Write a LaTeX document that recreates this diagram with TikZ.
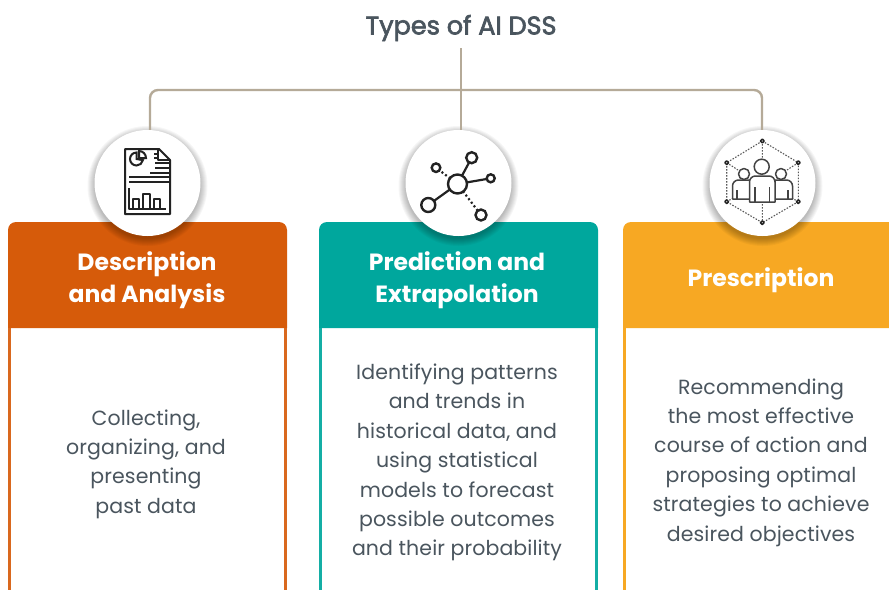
\documentclass[tikz,border=0pt]{standalone}
\usepackage{fontspec}
\setmainfont{Poppins}
\usetikzlibrary{calc}
\definecolor{orangeC}{HTML}{D65B0A}
\definecolor{tealC}{HTML}{00A79D}
\definecolor{amberC}{HTML}{F7A823}
\definecolor{linkC}{HTML}{B5AA98}
\definecolor{txtC}{HTML}{4A555E}
\definecolor{iconC}{HTML}{222222}
\newfontface\titlefont[FakeBold=2.5]{Poppins}
\tikzset{
 x=1pt,y=-1pt,
 cardhead/.style={text=white,font=\fontsize{23.5}{31.5}\selectfont\bfseries,align=center},
 cardbody/.style={text=txtC,font=\fontsize{20.5}{29.4}\selectfont\addfontfeature{LetterSpace=0.5},align=center},
 badge/.style={circle,fill=white,minimum size=106pt,inner sep=0pt},
 linkline/.style={draw=linkC,line width=2.4pt,rounded corners=8pt},
 ico/.style={draw=iconC,line width=2pt},
 icofine/.style={draw=iconC,line width=1.1pt,dash pattern=on 1.5pt off 1.5pt},
 icofill/.style={draw=iconC,line width=2.4pt,fill=white},
 ppl/.style={draw=iconC!85,line width=1.5pt,fill=white,line join=round}
}
\newcommand{\cardshape}[3]{% left,right,colour
 \fill[#3] (#1,328) -- (#1,230) arc[start angle=180,end angle=270,radius=8] -- (#2-8,222) arc[start angle=-90,end angle=0,radius=8] -- (#2,328) -- cycle;
 \draw[#3!92!white,line width=2.6pt] (#1+1.3,328) -- (#1+1.3,590) (#2-1.3,328) -- (#2-1.3,590);
}
\newcommand{\softshadow}[2]{%
 \foreach \r in {60,59,...,53} {\fill[black,opacity=0.035] (#1,#2+3) circle[radius=\r];}
}
\begin{document}
\begin{tikzpicture}
\useasboundingbox (0,0) rectangle (889,590);
\fill[white] (0,0) rectangle (889,590);
% cards
\cardshape{8}{287}{orangeC}
\cardshape{319}{598}{tealC}
\fill[amberC] (623,328) -- (623,230) arc[start angle=180,end angle=270,radius=8] -- (889,222) -- (889,328) -- cycle;
\draw[amberC,line width=2.6pt] (624.3,328) -- (624.3,590);
% connectors
\node[text=txtC,font=\fontsize{25.5}{28}\selectfont\titlefont] (title) at (461,28) {Types of AI DSS};
\coordinate (hub) at (461,90);
\softshadow{147.5}{183}
\softshadow{458.5}{183}
\softshadow{762.5}{183}
\coordinate (b1top) at (150,130);
\coordinate (b2top) at (461,130);
\coordinate (b3top) at (762,130);
\draw[linkline] (b1top) |- (hub);
\draw[linkline] (b3top) |- (hub);
\draw[linkline] (title.south |- 48,48) -- (b2top);
\node[badge] (b1) at (147.5,183) {};
\node[badge] (b2) at (458.5,183) {};
\node[badge] (b3) at (762.5,183) {};
% heads
\node[cardhead] (h1) at (147,280) {Description\\and Analysis};
\node[cardhead] (h2) at (457,280) {Prediction and\\Extrapolation};
\node[cardhead] (h3) at (761,280) {Prescription};
% bodies
\node[cardbody] (t1) at (146,464) {Collecting,\\organizing, and\\presenting\\past data};
\node[cardbody] (t2) at (457,462.5) {Identifying patterns\\and trends in\\historical data, and\\using statistical\\models to forecast\\possible outcomes\\and their probability};
\node[cardbody] (t3) at (761,462.5) {Recommending\\the most effective\\course of action and\\proposing optimal\\strategies to achieve\\desired objectives};
% icon 1: report
\draw[ico,line join=round] (125,149) -- (159,149) -- (170,160) -- (170,214) -- (125,214) -- cycle;
\draw[ico,line join=round] (158,149) -- (158,160) -- (170,160);
\draw[ico] (136.5,152.5) arc[start angle=270,end angle=10,radius=6.5] -- (136.5,159) -- cycle;
\draw[ico] (139,158) -- (139,151) arc[start angle=270,end angle=360,radius=7] -- cycle;
\draw[ico] (154,153.5) -- (158,153.5) (154,158) -- (158,158) (155,163) -- (169,163) (155,168) -- (169,168) (150,172.5) -- (169,172.5);
\draw[ico] (129,177) -- (169,177) (129,181.5) -- (169,181.5);
\draw[ico,line join=round] (129,188) -- (129,209) -- (166,209);
\draw[ico,line join=round] (133,209) -- (133,199) -- (139,199) -- (139,209) (143,209) -- (143,194) -- (150,194) -- (150,209) (154,209) -- (154,199) -- (160,199) -- (160,209);
% icon 2: network
\coordinate (c0) at (457.5,184);
\draw[ico,line width=2.2pt] (c0) -- (471.7,157.7) (c0) -- (490.7,178.3) (c0) -- (428.3,205);
\draw[icofine,line width=2.2pt,dash pattern=on 2pt off 2.5pt] (c0) -- (436,167.7) (c0) -- (481,215);
\filldraw[icofill] (c0) circle[radius=9.5];
\filldraw[icofill] (471.7,157.7) circle[radius=5.5];
\filldraw[icofill] (436,167.7) circle[radius=4.3];
\filldraw[icofill] (490.7,178.3) circle[radius=4];
\filldraw[icofill] (428.3,205) circle[radius=7];
\filldraw[icofill] (481,215) circle[radius=5.5];
% icon 3: team
\draw[icofine,draw=iconC!75] (762.3,141) -- (798.3,162.7) -- (798.3,201.7) -- (762.3,222.7) -- (726.7,201.7) -- (726.7,162.7) -- cycle;
\draw[icofine,draw=iconC!75] (762.3,141) -- (762.3,158) (762.3,204) -- (762.3,222.7) (726.7,162.7) -- (738,170) (798.3,162.7) -- (787,170);
\draw[icofine,draw=iconC!75] (726.7,201.7) -- (735,197) (798.3,201.7) -- (790,197);
\filldraw[ppl,draw=iconC] (762.3,141) circle[radius=1.9];
\filldraw[ppl,draw=iconC] (798.3,162.7) circle[radius=1.9];
\filldraw[ppl,draw=iconC] (798.3,201.7) circle[radius=1.9];
\filldraw[ppl,draw=iconC] (762.3,222.7) circle[radius=1.9];
\filldraw[ppl,draw=iconC] (726.7,201.7) circle[radius=1.9];
\filldraw[ppl,draw=iconC] (726.7,162.7) circle[radius=1.9];
\filldraw[ppl] (744,174) circle[radius=5.5];
\filldraw[ppl] (781,174) circle[radius=5.5];
\filldraw[ppl] (732.5,199) -- (732.5,186) arc[start angle=180,end angle=270,radius=6] -- (750,180) -- (750,199) -- cycle;
\filldraw[ppl] (792.5,199) -- (792.5,186) arc[start angle=0,end angle=-90,radius=6] -- (775,180) -- (775,199) -- cycle;
\draw[ppl] (737,199) -- (737,190) (788,199) -- (788,190);
\filldraw[ppl] (761.7,166.7) circle[radius=7.5];
\filldraw[ppl] (749.5,202) -- (749.5,182) arc[start angle=180,end angle=270,radius=6] -- (769,176) arc[start angle=-90,end angle=0,radius=6] -- (775,202) -- cycle;
\draw[ppl] (755,202) -- (755,187) (769.5,202) -- (769.5,187);
\end{tikzpicture}
\end{document}
